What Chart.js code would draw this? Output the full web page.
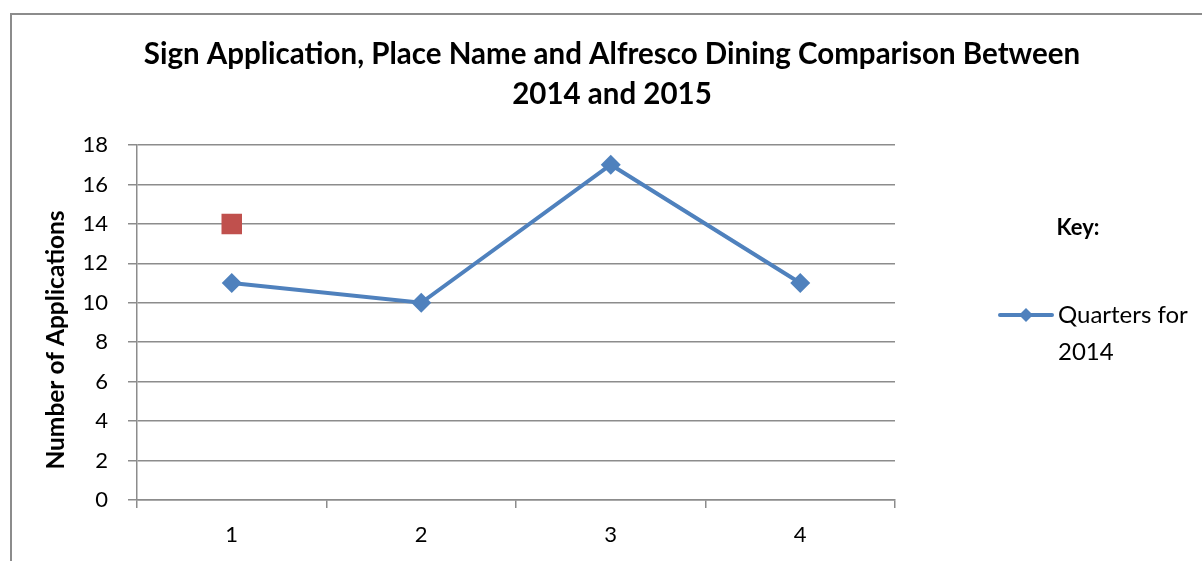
<!DOCTYPE html>
<html><head><meta charset="utf-8">
<script src="https://cdn.jsdelivr.net/npm/chart.js@4"></script>
<style>
html,body{margin:0;padding:0;background:#fff;overflow:hidden;width:1202px;height:561px}
#frame{position:absolute;left:10px;top:13px;width:1192px;height:548px;border-left:2px solid #8c8c8c;border-top:2px solid #8c8c8c;box-sizing:border-box}
#wrap{position:absolute;left:12px;top:15px;width:1190px;height:546px}
</style></head><body>
<div id="frame"></div>
<div id="wrap"><canvas id="c"></canvas></div>
<script>
const categories = ['1', '2', '3', '4'];
const quarters2014 = [11, 10, 17, 11];
const quarters2015 = [14, null, null, null];
const yTickValues = [0, 2, 4, 6, 8, 10, 12, 14, 16, 18];
const titleLines = ['Sign Application, Place Name and Alfresco Dining Comparison Between', '2014 and 2015'];
const yAxisTitle = 'Number of Applications';
const keyTitle = 'Key:';
const legendLines = ['Quarters for', '2014'];

const FONT = 'Lato';
const GRID = '#8c8c8c';
const BLUE = '#4F81BD';
const RED = '#C0504D';

const overlay = {
  id: 'overlay',
  afterDraw(chart) {
    const ctx = chart.ctx;
    ctx.save();
    // y axis title
    ctx.fillStyle = '#000';
    ctx.font = 'bold 24.5px ' + FONT;
    ctx.textAlign = 'center';
    ctx.textBaseline = 'middle';
    ctx.translate(44, 325);
    ctx.rotate(-Math.PI / 2);
    ctx.fillText(yAxisTitle, 0, 0);
    ctx.restore();

    ctx.save();
    ctx.fillStyle = '#000';
    ctx.font = 'bold 22px ' + FONT;
    ctx.textAlign = 'center';
    ctx.textBaseline = 'middle';
    ctx.fillText(keyTitle, 1066, 213);
    // legend sample
    const ds = chart.data.datasets[0];
    ctx.strokeStyle = ds.borderColor;
    ctx.lineWidth = 4;
    ctx.lineCap = 'round';
    ctx.beginPath();
    ctx.moveTo(988, 300);
    ctx.lineTo(1040, 300);
    ctx.stroke();
    ctx.fillStyle = ds.borderColor;
    ctx.beginPath();
    ctx.moveTo(1014, 293); ctx.lineTo(1021, 300); ctx.lineTo(1014, 307); ctx.lineTo(1007, 300); ctx.closePath();
    ctx.fill();
    ctx.fillStyle = '#000';
    ctx.font = '24px ' + FONT;
    ctx.textAlign = 'left';
    legendLines.forEach((t, i) => ctx.fillText(t, 1046, 300 + i * 37));
    ctx.restore();
  }
};

new Chart(document.getElementById('c'), {
  type: 'line',
  data: {
    labels: categories,
    datasets: [
      {
        label: legendLines.join(' '),
        data: quarters2014,
        borderColor: BLUE,
        backgroundColor: BLUE,
        borderWidth: 4,
        tension: 0,
        pointStyle: 'rectRot',
        pointRadius: 10,
        pointBorderWidth: 0,
        pointBackgroundColor: BLUE
      },
      {
        label: '2015',
        data: quarters2015,
        showLine: false,
        borderColor: RED,
        backgroundColor: RED,
        pointStyle: 'rect',
        pointRadius: 14.5,
        pointBorderWidth: 0,
        pointBackgroundColor: RED
      }
    ]
  },
  options: {
    responsive: true,
    maintainAspectRatio: false,
    animation: false,
    events: [],
    layout: { padding: { left: 10, top: 0, right: 0, bottom: 0 } },
    plugins: {
      legend: { display: false },
      tooltip: { enabled: false },
      title: {
        display: true,
        text: titleLines,
        color: '#000',
        font: { family: FONT, size: 29.5, weight: 'bold', lineHeight: 40 / 29.5 },
        padding: { top: 19, bottom: 31 }
      }
    },
    scales: {
      x: {
        type: 'category',
        offset: true,
        afterFit(s) { s.height = 61; },
        grid: { offset: true, drawOnChartArea: false, tickLength: 8, color: GRID, lineWidth: 1.5 },
        border: { color: GRID, width: 1.5 },
        ticks: { color: '#000', font: { family: FONT, size: 22 }, padding: 14 }
      },
      y: {
        min: 0,
        max: 18,
        afterFit(s) { s.width = 115; },
        afterBuildTicks(s) { s.ticks = yTickValues.map(v => ({ value: v })); },
        grid: { color: GRID, lineWidth: 1.5, tickLength: 9 },
        border: { color: GRID, width: 1.5 },
        ticks: { color: '#000', font: { family: FONT, size: 22 }, padding: 20 }
      },
      yRight: {
        position: 'right',
        display: true,
        afterFit(s) { s.width = 307; },
        grid: { display: false },
        border: { display: false },
        ticks: { display: false }
      }
    }
  },
  plugins: [overlay]
});
</script>
</body></html>
